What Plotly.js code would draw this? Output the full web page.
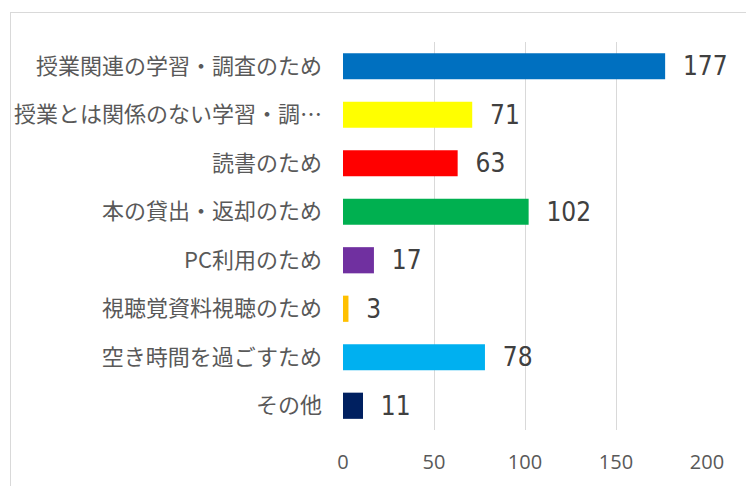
<!DOCTYPE html>
<html><head><meta charset="utf-8">
<script src="https://cdn.plot.ly/plotly-3.0.1.min.js"></script>
<style>
html,body{margin:0;padding:0;background:#fff;}
#wrap{position:relative;width:746px;height:486px;}
#chart{position:absolute;left:0;top:0;width:746px;height:486px;}
#frame{position:absolute;left:10px;top:12px;width:760px;height:500px;border:1px solid #d9d9d9;pointer-events:none;}
</style></head>
<body><div id="wrap"><div id="chart"></div><div id="frame"></div></div>
<script>
const categories = ["授業関連の学習・調査のため","授業とは関係のない学習・調…","読書のため","本の貸出・返却のため","PC利用のため","視聴覚資料視聴のため","空き時間を過ごすため","その他"];
const values = [177, 71, 63, 102, 17, 3, 78, 11];
const colors = ["#0070C0","#FFFF00","#FF0000","#00B050","#7030A0","#FFC000","#00B0F0","#002060"];
const xTicks = [0, 50, 100, 150, 200];

const trace = {
  type: 'bar', orientation: 'h',
  y: categories, x: values,
  marker: {color: colors},
  text: values.map(v => '  ' + v),
  textposition: 'outside',
  constraintext: 'none',
  cliponaxis: false,
  textfont: {family: '"Liberation Sans Narrow", "Arial Narrow", "DejaVu Sans Condensed", sans-serif', size: 26, color: '#404040'},
  hoverinfo: 'none'
};
const layout = {
  width: 746, height: 486,
  margin: {l: 343, r: 39, t: 42, b: 56},
  paper_bgcolor: 'rgba(0,0,0,0)', plot_bgcolor: 'rgba(0,0,0,0)',
  showlegend: false,
  bargap: 0.46,
  xaxis: {range: [0, 200], tickvals: xTicks, ticktext: xTicks.map(String),
    showgrid: true, gridcolor: '#d9d9d9', gridwidth: 1, zeroline: false, showline: false,
    ticks: '', ticklabelstandoff: 18,
    tickfont: {family: '"Open Sans", sans-serif', size: 20, color: '#595959'}},
  yaxis: {autorange: 'reversed', type: 'category', showgrid: false, zeroline: false, showline: false,
    ticks: '', ticklabelstandoff: 20,
    tickfont: {family: '"Noto Sans CJK JP", sans-serif', size: 22, color: '#595959'}},
  font: {family: '"Noto Sans CJK JP", sans-serif'}
};
Plotly.newPlot('chart', [trace], layout, {displayModeBar: false, staticPlot: true});
</script></body></html>
